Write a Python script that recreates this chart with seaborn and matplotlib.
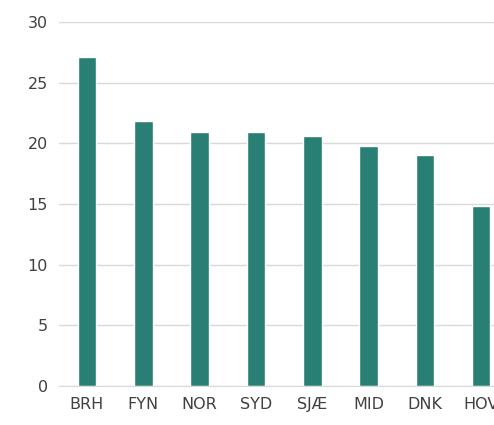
import matplotlib
matplotlib.use("Agg")
import matplotlib.pyplot as plt
import seaborn as sns
import pandas as pd

regions = ["BRH", "FYN", "NOR", "SYD", "SJÆ", "MID", "DNK", "HOV"]
values = [27.1, 21.8, 20.9, 20.9, 20.6, 19.8, 19.0, 14.8]

df = pd.DataFrame({"region": regions, "value": values})

sns.set_style("white")
fig = plt.figure(figsize=(4.94, 4.25), dpi=100)
ax = fig.add_axes([0.119, 0.0918, 0.912, 0.8565])
sns.barplot(data=df, x="region", y="value", color="#2a7f75", saturation=1,
            width=0.33, ax=ax)
ax.set_ylim(0, 30)
ax.set_yticks(range(0, 31, 5))
ax.yaxis.grid(True, color="#d9d9d9", linewidth=1)
ax.set_axisbelow(True)
for s in ["top", "right", "left"]:
    ax.spines[s].set_visible(False)
ax.spines["bottom"].set_color("#d9d9d9")
ax.set_xlabel("")
ax.set_ylabel("")
ax.tick_params(length=0, labelsize=11.5, colors="#404040", pad=8)
fig.savefig("out.png", dpi=100)
